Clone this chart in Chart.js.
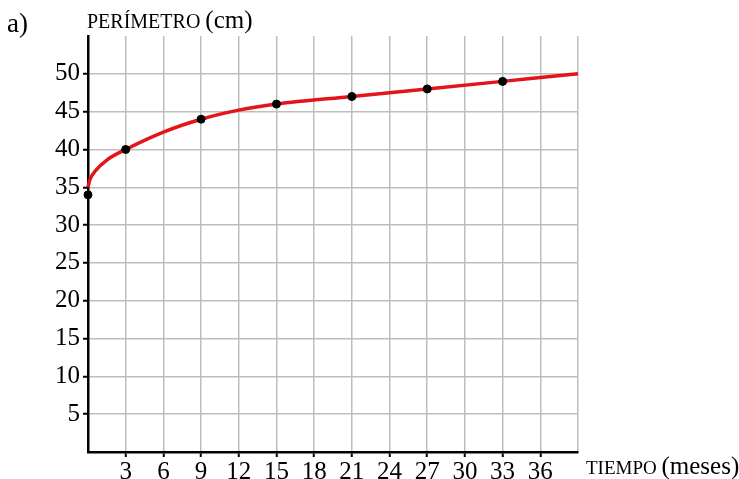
<!DOCTYPE html>
<html>
<head>
<meta charset="utf-8">
<script src="https://cdn.jsdelivr.net/npm/chart.js@4"></script>
<style>
  html, body { margin: 0; padding: 0; background: #fff; }
  #chart { display: block; }
</style>
</head>
<body>
<canvas id="chart" width="739" height="479"></canvas>
<script>
// measured points (months, perimeter in cm)
const months = [0, 3, 9, 15, 21, 27, 33];
const perimeter = [34, 40, 44, 46, 47, 48, 49];

// red trend curve
const curveMonths = [0, 0.15, 0.6, 1.5, 3, 6, 9, 12, 15, 21, 27, 33, 39];
const curveValues = [35, 36, 37.2, 38.6, 40, 42.3, 44, 45.2, 46, 47, 48, 49, 50];

const xTickLabels = [3, 6, 9, 12, 15, 18, 21, 24, 27, 30, 33, 36];
const yTickLabels = [5, 10, 15, 20, 25, 30, 35, 40, 45, 50];
const xGrid = [0, 3, 6, 9, 12, 15, 18, 21, 24, 27, 30, 33, 36, 39];
const yGrid = [0, 5, 10, 15, 20, 25, 30, 35, 40, 45, 50, 55];

const SERIF = '"Liberation Serif", "DejaVu Serif", serif';

const labelsPlugin = {
    id: 'axisTitles',
    afterDraw(chart) {
        const ctx = chart.ctx;
        const area = chart.chartArea;
        ctx.save();
        ctx.fillStyle = '#000';
        ctx.textBaseline = 'alphabetic';
        ctx.textAlign = 'left';

        ctx.font = '27px ' + SERIF;
        ctx.fillText('a)', 7, 32);

        // y axis title
        ctx.font = '20px ' + SERIF;
        ctx.fillText('PERÍMETRO', area.left - 1, 28);
        let w = ctx.measureText('PERÍMETRO ').width;
        ctx.font = '25px ' + SERIF;
        ctx.fillText('(cm)', area.left - 1 + w, 28);

        // x axis title
        ctx.font = '19px ' + SERIF;
        ctx.fillText('TIEMPO', area.right + 8, 474);
        w = ctx.measureText('TIEMPO ').width;
        ctx.font = '25px ' + SERIF;
        ctx.fillText('(meses)', area.right + 8 + w, 474);
        ctx.restore();
    }
};

const ctx = document.getElementById('chart').getContext('2d');
new Chart(ctx, {
    type: 'scatter',
    data: {
        datasets: [
            {
                label: 'Perímetro',
                data: months.map((m, i) => ({ x: m, y: perimeter[i] })),
                backgroundColor: '#000',
                borderColor: '#000',
                pointRadius: 4,
                showLine: false,
                clip: false,
                order: 0
            },
            {
                label: 'Tendencia',
                data: curveMonths.map((m, i) => ({ x: m, y: curveValues[i] })),
                showLine: true,
                borderColor: '#e3141c',
                borderWidth: 3.5,
                pointRadius: 0,
                cubicInterpolationMode: 'monotone',
                clip: false,
                order: 1
            }
        ]
    },
    options: {
        responsive: false,
        animation: false,
        devicePixelRatio: 1,
        layout: { padding: { left: 0, top: 36, right: 161, bottom: 0 } },
        plugins: {
            legend: { display: false },
            tooltip: { enabled: false }
        },
        scales: {
            x: {
                type: 'linear',
                min: 0,
                max: 39,
                afterBuildTicks: s => { s.ticks = xGrid.map(v => ({ value: v })); },
                afterFit: s => { s.height = 27; },
                border: { display: true, color: '#000', width: 2.5 },
                grid: {
                    color: '#bdbdbd',
                    lineWidth: 1.5,
                    tickLength: 5,
                    tickColor: c => xTickLabels.includes(c.tick.value) ? '#000' : 'rgba(0,0,0,0)',
                    tickWidth: 2
                },
                ticks: {
                    color: '#000',
                    padding: 0,
                    maxRotation: 0,
                    autoSkip: false,
                    font: { family: SERIF, size: 25 },
                    callback: v => xTickLabels.includes(v) ? String(v) : ''
                }
            },
            y: {
                type: 'linear',
                min: 0,
                max: 55,
                afterBuildTicks: s => { s.ticks = yGrid.map(v => ({ value: v })); },
                afterFit: s => { s.width = 88; },
                border: { display: true, color: '#000', width: 2.5 },
                grid: {
                    color: c => (c.tick.value === 0 || c.tick.value === 55) ? 'rgba(0,0,0,0)' : '#bdbdbd',
                    lineWidth: 1.5,
                    tickLength: 5,
                    tickColor: c => yTickLabels.includes(c.tick.value) ? '#000' : 'rgba(0,0,0,0)',
                    tickWidth: 2
                },
                ticks: {
                    color: '#000',
                    padding: 3,
                    autoSkip: false,
                    font: { family: SERIF, size: 25 },
                    callback: v => yTickLabels.includes(v) ? String(v) : ''
                }
            }
        }
    },
    plugins: [labelsPlugin]
});
</script>
</body>
</html>
